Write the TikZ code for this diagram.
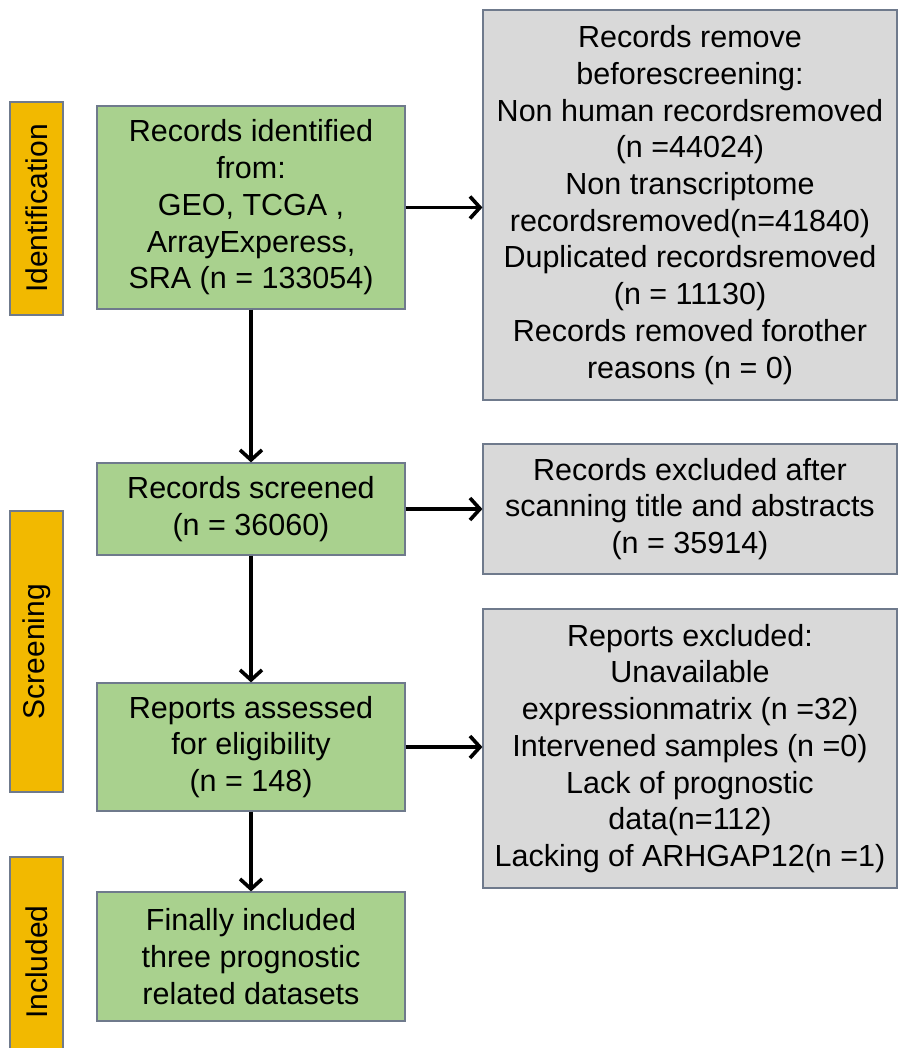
\documentclass[tikz,border=0pt]{standalone}
\usepackage{fontspec}
\setmainfont{Liberation Sans}
\usetikzlibrary{arrows.meta}
\definecolor{boxgreen}{HTML}{A9D18E}
\definecolor{boxgray}{HTML}{D9D9D9}
\definecolor{bargold}{HTML}{F2B900}
\definecolor{edge}{HTML}{6F7A8C}
\begin{document}
\begin{tikzpicture}[x=1pt,y=-1pt,
  every node/.style={font=\fontsize{30.5}{36.7}\selectfont, align=center, inner sep=0pt},
  gbox/.style={draw=edge, line width=1.2pt, fill=boxgreen, minimum width=308pt},
  xbox/.style={draw=edge, line width=1.2pt, fill=boxgray, minimum width=414pt},
  bar/.style={draw=edge, line width=1.2pt, fill=bargold, minimum height=53pt, rotate=90, font=\fontsize{30}{34}\selectfont},
  flow/.style={line width=3.6pt, -{Straight Barb[length=10pt,width=22pt,line width=3.6pt]}}]
\useasboundingbox (0,0) rectangle (899,1048);
\fill[white] (0,0) rectangle (899,1048);
\begin{scope}
\clip (0,0) rectangle (899,1048);
\node[bar, minimum width=213pt] (b1) at (36.5,208.5) {Identification};
\node[bar, minimum width=281pt] (b2) at (36.5,651.5) {Screening};
\node[bar, minimum width=210pt] (b3) at (36.5,962) {Included};
\end{scope}
\node[gbox, minimum height=203pt] (a) at (251,207.5) {Records identified\\from:\\GEO, TCGA ,\\ArrayExperess,\\SRA (n = 133054)};
\node[xbox, minimum height=390pt] (ga) at (690,205) {Records remove\\beforescreening:\\Non human recordsremoved\\(n =44024)\\Non transcriptome\\recordsremoved(n=41840)\\Duplicated recordsremoved\\(n = 11130)\\Records removed forother\\reasons (n = 0)};
\node[gbox, minimum height=92pt] (s) at (251,509) {Records screened\\(n = 36060)};
\node[xbox, minimum height=130pt] (gs) at (690,509) {Records excluded after\\scanning title and abstracts\\(n = 35914)};
\node[gbox, minimum height=128pt] (r) at (251,747) {Reports assessed\\for eligibility\\(n = 148)};
\node[xbox, minimum height=279pt] (gr) at (690,748.5) {Reports excluded:\\Unavailable\\expressionmatrix (n =32)\\Intervened samples (n =0)\\Lack of prognostic\\data(n=112)\\Lacking of ARHGAP12(n =1)};
\node[gbox, minimum height=129pt] (f) at (251,956.5) {Finally included\\three prognostic\\related datasets};
\draw[flow] (a.east) -- (a.east -| ga.west);
\draw[flow] (s.east) -- (s.east -| gs.west);
\draw[flow] (r.east) -- (r.east -| gr.west);
\draw[flow] (a.south) -- (s.north);
\draw[flow] (s.south) -- (r.north);
\draw[flow] (r.south) -- (f.north);
\end{tikzpicture}
\end{document}
